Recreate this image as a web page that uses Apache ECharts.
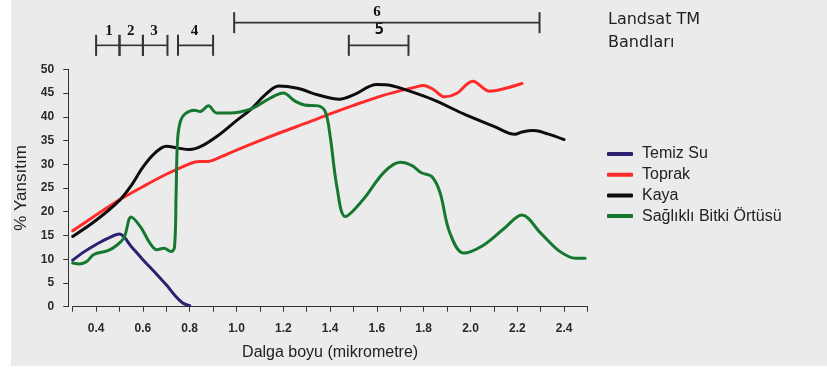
<!DOCTYPE html>
<html>
<head>
<meta charset="utf-8">
<script src="https://cdn.jsdelivr.net/npm/echarts@6/dist/echarts.min.js"></script>
<style>
  html, body { margin: 0; padding: 0; background: #ffffff; }
  #chart { width: 827px; height: 375px; }
</style>
</head>
<body>
<div id="chart"></div>
<script>
// wavelength (µm) / reflectance (%) pairs
const temizSu = [
  [0.30, 9.8], [0.35, 11.6], [0.40, 13.1], [0.45, 14.4], [0.50, 15.3],
  [0.55, 12.7], [0.60, 9.9], [0.65, 7.3], [0.70, 4.6], [0.74, 2.2],
  [0.77, 0.8], [0.80, 0.2]
];
const toprak = [
  [0.30, 16.0], [0.40, 19.3], [0.50, 22.5], [0.60, 25.3], [0.70, 27.9],
  [0.80, 30.1], [0.84, 30.6], [0.88, 30.6], [0.93, 31.5], [1.00, 33.0],
  [1.10, 35.0], [1.20, 36.9], [1.30, 38.7], [1.40, 40.6], [1.50, 42.4],
  [1.60, 44.1], [1.70, 45.5], [1.76, 46.2], [1.80, 46.6], [1.84, 45.8],
  [1.89, 44.2], [1.94, 44.9], [2.01, 47.5], [2.08, 45.4], [2.15, 46.0],
  [2.22, 47.0]
];
const kaya = [
  [0.30, 14.8], [0.40, 18.2], [0.50, 22.4], [0.55, 25.5], [0.60, 29.4],
  [0.65, 32.3], [0.70, 33.8], [0.75, 33.4], [0.80, 33.1], [0.85, 33.8],
  [0.92, 36.0], [1.00, 39.2], [1.06, 41.5], [1.12, 44.5], [1.18, 46.5],
  [1.26, 46.0], [1.35, 44.6], [1.44, 43.7], [1.50, 44.6], [1.60, 46.8],
  [1.66, 46.6], [1.74, 45.4], [1.84, 43.6], [1.98, 40.4], [2.10, 38.0],
  [2.19, 36.3], [2.22, 36.8], [2.27, 37.1], [2.33, 36.4], [2.40, 35.2]
];
const bitki = [
  [0.30, 9.2], [0.33, 9.0], [0.36, 9.5], [0.39, 11.0], [0.45, 11.8],
  [0.49, 13.0], [0.52, 14.6], [0.55, 18.9], [0.59, 16.8], [0.63, 13.4],
  [0.66, 12.0], [0.69, 12.3], [0.72, 11.6], [0.735, 12.5], [0.742, 24.0],
  [0.748, 35.0], [0.76, 39.0], [0.78, 40.6], [0.82, 41.4], [0.845, 41.1],
  [0.88, 42.3], [0.915, 40.8], [0.97, 40.8], [1.06, 41.6], [1.14, 43.8],
  [1.20, 45.0], [1.25, 43.3], [1.29, 42.5], [1.35, 42.3], [1.38, 41.0],
  [1.40, 36.0], [1.43, 25.0], [1.465, 19.0], [1.54, 22.5], [1.63, 28.3],
  [1.70, 30.4], [1.75, 29.7], [1.79, 28.2], [1.835, 27.4], [1.87, 24.0],
  [1.91, 15.8], [1.97, 11.3], [2.05, 12.8], [2.14, 16.3], [2.22, 19.3],
  [2.30, 15.5], [2.38, 11.7], [2.45, 10.2], [2.49, 10.2]
];

const seriesNames = ["Temiz Su", "Toprak", "Kaya", "Sağlıklı Bitki Örtüsü"];
const seriesColors = ["#2b2170", "#ff2a2a", "#0d0d0d", "#16782f"];
const seriesData = [temizSu, toprak, kaya, bitki];

// Landsat TM bands drawn above the plot
const bandNames = ["1", "2", "3", "4", "5", "6"];
const bandStart = [0.40, 0.50, 0.60, 0.75, 1.48, 0.99];
const bandEnd = [0.50, 0.60, 0.705, 0.90, 1.735, 2.295];
const bandRow = [1, 1, 1, 1, 1, 2];
const bandLabelX = [0.455, 0.548, 0.647, 0.82, 1.61, 1.60];

const chart = echarts.init(document.getElementById("chart"));

const bandData = bandNames.map((n, i) => [bandStart[i], bandEnd[i], bandRow[i], bandLabelX[i], n]);

const option = {
  backgroundColor: "transparent",
  animation: false,
  graphic: [
    { type: "rect", z: -10, shape: { x: 11, y: 0, width: 816, height: 366 }, style: { fill: "#ebebeb" } }
  ],
  title: {
    text: "Landsat TM\nBandları",
    left: 603,
    top: 3,
    textStyle: { fontFamily: "DejaVu Sans", fontSize: 16, lineHeight: 23, fontWeight: "normal", color: "#222" }
  },
  legend: {
    orient: "vertical",
    left: 602,
    top: 140,
    itemWidth: 26,
    itemHeight: 4,
    itemGap: 2.7,
    icon: "roundRect",
    data: seriesNames,
    textStyle: { fontFamily: "Liberation Sans", fontSize: 16, lineHeight: 18, color: "#222", padding: [0, 0, 0, 4] }
  },
  grid: [
    { left: 72.7, right: 239.5, top: 69.3, bottom: 68.3 },
    { left: 72.7, right: 239.5, top: 0, height: 68 }
  ],
  xAxis: [
    {
      type: "value",
      min: 0.3,
      max: 2.5,
      interval: 0.1,
      offset: 8,
      name: "Dalga boyu (mikrometre)",
      nameLocation: "middle",
      nameGap: 30,
      nameTextStyle: { fontFamily: "Liberation Sans", fontSize: 16, color: "#222" },
      axisLine: { lineStyle: { color: "#333", width: 1 } },
      axisTick: { length: 5, lineStyle: { color: "#333" } },
      splitLine: { show: false },
      axisLabel: {
        margin: 8,
        fontFamily: "Liberation Sans",
        fontSize: 12,
        fontWeight: "bold",
        color: "#2a2a2a",
        formatter: v => {
          const t = Math.round(v * 10);
          return t % 2 === 0 ? (t / 10).toFixed(1) : "";
        }
      }
    },
    { type: "value", gridIndex: 1, min: 0.3, max: 2.5, show: false }
  ],
  yAxis: [
    {
      type: "value",
      min: 0,
      max: 50,
      interval: 5,
      offset: 4.5,
      name: "% Yansıtım",
      nameLocation: "middle",
      nameGap: 35,
      nameTextStyle: { fontFamily: "Liberation Sans", fontSize: 17, color: "#222" },
      axisLine: { show: true, lineStyle: { color: "#333", width: 1 } },
      axisTick: { show: true, length: 5, lineStyle: { color: "#333" } },
      splitLine: { show: false },
      axisLabel: { margin: 14, fontFamily: "Liberation Sans", fontSize: 12, fontWeight: "bold", color: "#2a2a2a" }
    },
    { type: "value", gridIndex: 1, min: 0, max: 3, show: false }
  ],
  series: seriesNames.map((name, i) => ({
    name,
    type: "line",
    data: seriesData[i],
    smooth: 0.35,
    showSymbol: false,
    color: seriesColors[i],
    lineStyle: { width: 3, color: seriesColors[i], cap: "round", join: "round" }
  })).concat([{
    type: "custom",
    xAxisIndex: 1,
    yAxisIndex: 1,
    data: bandData,
    silent: true,
    renderItem: (params, api) => {
      const a = api.coord([api.value(0), api.value(2)]);
      const b = api.coord([api.value(1), api.value(2)]);
      const t = api.coord([api.value(3), api.value(2)]);
      const name = bandData[params.dataIndex][4];
      const h = 10.5;
      const isFive = name === "5";
      return {
        type: "group",
        children: [
          { type: "line", shape: { x1: a[0], y1: a[1], x2: b[0], y2: b[1] }, style: { stroke: "#333", lineWidth: 1.6 } },
          { type: "line", shape: { x1: a[0], y1: a[1] - h, x2: a[0], y2: a[1] + h }, style: { stroke: "#333", lineWidth: 2 } },
          { type: "line", shape: { x1: b[0], y1: b[1] - h, x2: b[0], y2: b[1] + h }, style: { stroke: "#333", lineWidth: 2 } },
          {
            type: "text",
            x: t[0],
            y: a[1] - (api.value(2) === 2 ? 3 : 7),
            style: {
              text: name,
              align: "center",
              verticalAlign: "bottom",
              fontFamily: isFive ? "DejaVu Sans Mono" : "Liberation Serif",
              fontWeight: "bold",
              fontSize: isFive ? 16 : 15,
              fill: "#111"
            }
          }
        ]
      };
    }
  }])
};

chart.setOption(option);
</script>
</body>
</html>
